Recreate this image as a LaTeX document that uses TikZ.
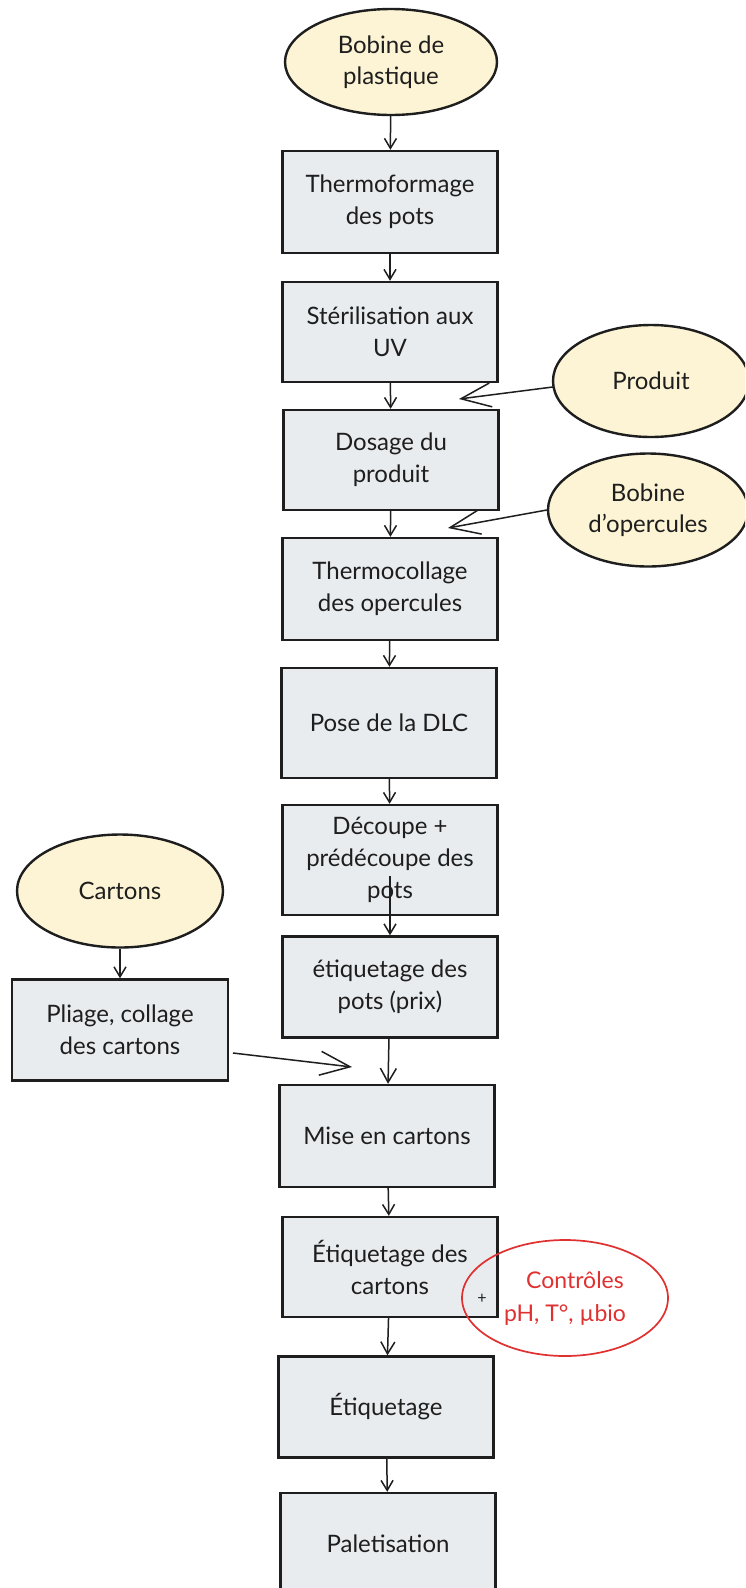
\documentclass[tikz,border=0pt]{standalone}
\usepackage{fontspec}
\setmainfont{Lato}
\usetikzlibrary{arrows.meta,shapes.geometric}
\definecolor{boxfill}{HTML}{E9ECEF}
\definecolor{ellfill}{HTML}{FCF4D4}
\definecolor{ink}{HTML}{1E1E1E}
\definecolor{redink}{HTML}{E03131}
\tikzset{
  stepbox/.style={draw=ink, line width=2.4pt, fill=boxfill, rectangle, minimum width=215pt, minimum height=100pt, inner sep=2pt, align=center, text=ink, font=\fontsize{24}{32}\selectfont},
  ell/.style={draw=ink, line width=2.4pt, fill=ellfill, ellipse, inner sep=0pt, align=center, text=ink, font=\fontsize{24}{31}\selectfont},
  flow/.style={draw=ink, line width=1.5pt, -{Straight Barb[length=10pt,width=12pt,line width=1.5pt]}},
  bigflow/.style={draw=ink, line width=1.5pt, -{Straight Barb[length=30pt,width=24pt,line width=1.5pt]}},
}
\begin{document}
\begin{tikzpicture}[x=1pt,y=-1pt]
\useasboundingbox (0,0) rectangle (745,1588);
\clip (0,0) rectangle (745,1588);
\fill[white] (0,0) rectangle (745,1588);
% ellipses
\node[ell, minimum width=212pt, minimum height=106pt] (bp) at (391,62) {Bobine de\\plastique};
\node[ell, minimum width=196pt, minimum height=112pt] (prod) at (651,381) {Produit};
\node[ell, minimum width=200pt, minimum height=113pt] (bo) at (648,510) {Bobine\\d'opercules};
\node[ell, minimum width=206pt, minimum height=113pt] (cart) at (120,891) {Cartons};
% boxes
\node[stepbox, minimum height=102pt] (t1) at (390,202) {Thermoformage\\des pots};
\node[stepbox] (t2) at (390,332) {Stérilisation aux\\UV};
\node[stepbox] (t3) at (391,460) {Dosage du\\produit};
\node[stepbox, minimum height=102pt] (t4) at (390,589) {Thermocollage\\des opercules};
\node[stepbox, minimum height=110pt] (t5) at (389,723) {Pose de la DLC};
\node[stepbox, minimum height=110pt] (t6) at (390,860) {Découpe +\\prédécoupe des\\pots};
\node[stepbox, minimum height=101pt] (t7) at (390,987) {étiquetage des\\pots (prix)};
\node[stepbox, minimum height=102pt] (t8) at (387,1136) {Mise en cartons};
\node[stepbox] (t9) at (390,1267) {Étiquetage des\\cartons};
\node[stepbox, minimum height=101pt] (t10) at (386,1407) {Étiquetage};
\node[stepbox, minimum height=102pt] (t11) at (388,1544) {Paletisation};
\node[stepbox, minimum width=216pt, minimum height=101pt] (pl) at (120,1030) {Pliage, collage\\des cartons};
% red annotation
\node[draw=redink, line width=1.7pt, ellipse, minimum width=206pt, minimum height=116pt, inner sep=0pt, align=center, text=redink, font=\fontsize{23}{33}\selectfont] (ctl) at (565,1298) {\hspace*{20pt}Contrôles\\pH, T°, µbio};
\node[text=ink, font=\fontsize{16}{16}\selectfont, inner sep=0pt] (plus) at (482,1299) {+};
% free ends
\coordinate (pa) at (459,399);
\coordinate (ba) at (448,528);
\coordinate (ca) at (352,1067);
\coordinate (ps) at (233,1053);
% connectors
\draw[flow] (bp) -- (t1);
\draw[flow] (t1) -- (t2);
\draw[flow] (t2) -- (t3);
\draw[flow] (t3) -- (t4);
\draw[flow] (t4) -- (t5);
\draw[flow] (t5) -- (t6);
\draw[flow] (t6.south) ++(0,-40) -- (t7.north);
\draw[draw=ink, line width=1.5pt, -{Straight Barb[length=14pt,width=16pt,line width=1.5pt]}] (t7) -- (t8);
\draw[flow] (t8) -- (t9);
\draw[draw=ink, line width=1.5pt, -{Straight Barb[length=12pt,width=14pt,line width=1.5pt]}] (t9) -- (t10);
\draw[flow] (t10) -- (t11);
\draw[flow] (cart) -- (pl);
\draw[bigflow] (prod.west) ++(1,6) -- (pa);
\draw[bigflow] (bo.west) -- (ba);
\draw[bigflow] (ps) -- (ca);
\end{tikzpicture}
\end{document}
